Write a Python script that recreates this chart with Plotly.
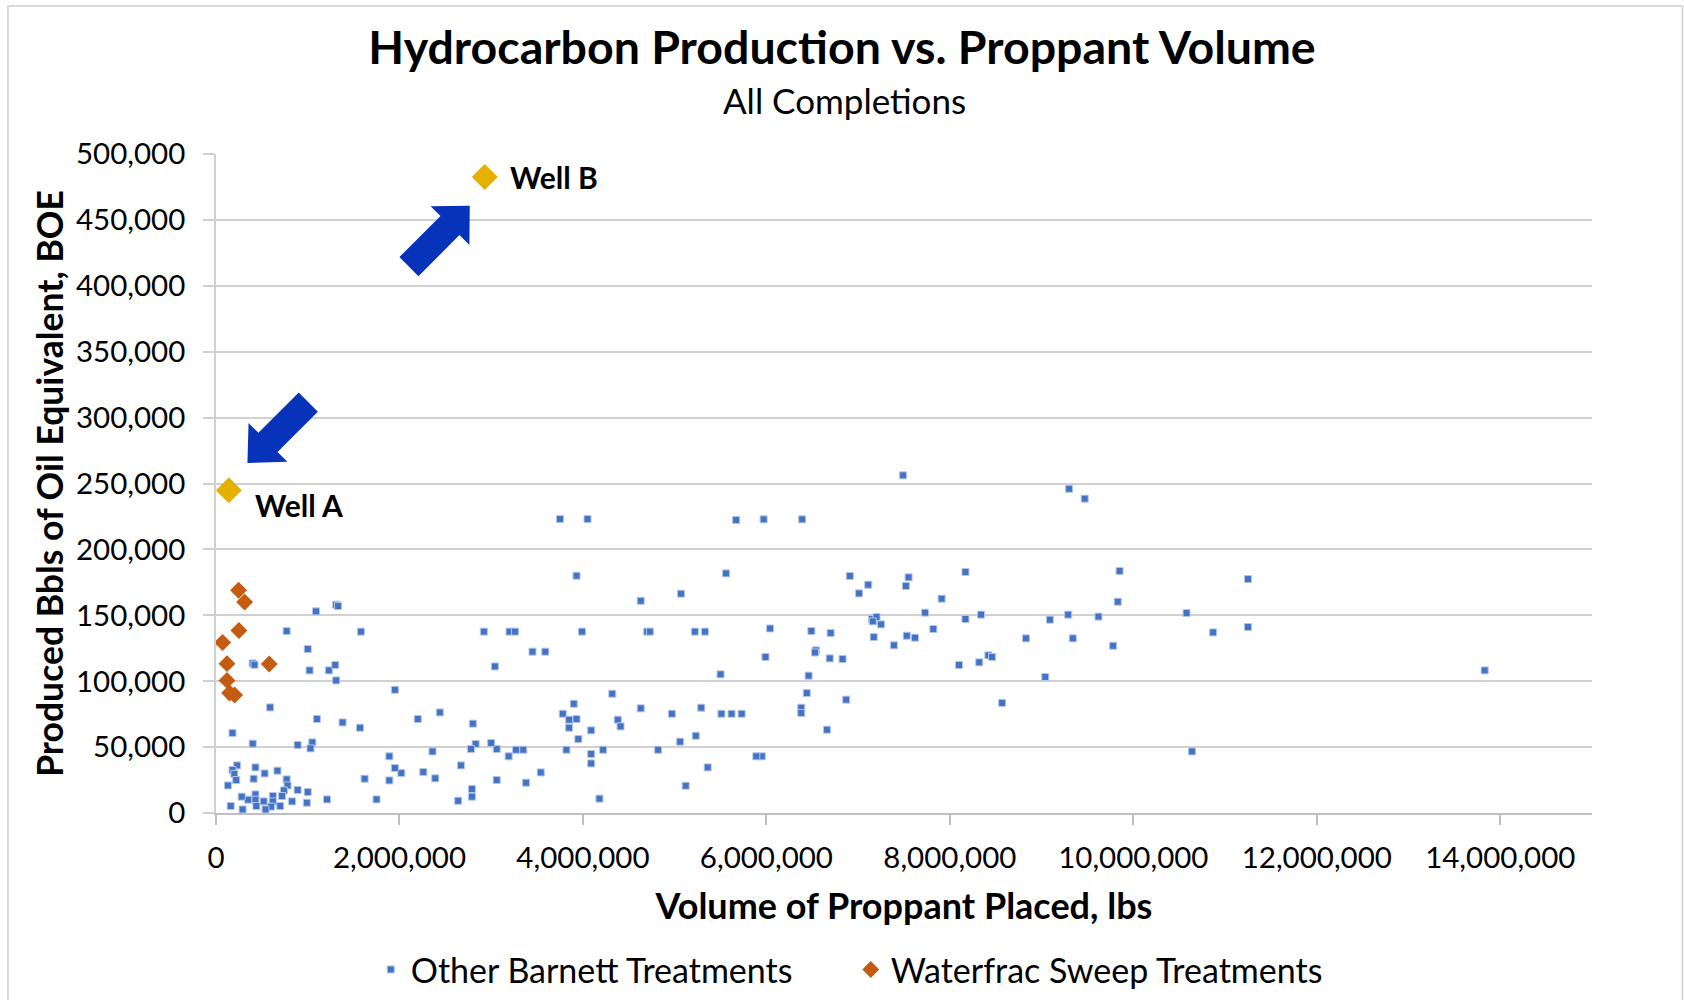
import math
import plotly.graph_objects as go

# ---------------- data ----------------
other_x = [3930000, 4630000, 1090000, 1310000, 1330000, 770000, 1580000, 2920000, 3200000, 3260000,
           3990000, 4700000, 4730000, 1000000, 3450000, 3590000, 400000, 420000, 1020000, 1230000,
           1300000, 1310000, 3040000, 1950000, 4320000, 590000, 4630000, 2440000, 3900000, 3780000,
           3850000, 3930000, 3850000, 3950000, 4090000, 4380000, 4410000, 4090000, 4220000, 4090000,
           4180000, 3820000, 3540000, 3380000, 3270000, 3350000, 3190000, 3060000, 3000000, 3060000,
           2830000, 2780000, 2800000, 2790000, 2790000, 2640000, 2670000, 2390000, 2360000, 2260000,
           2200000, 2020000, 1950000, 1890000, 1890000, 1750000, 1620000, 1570000, 1380000, 1100000,
           1050000, 1030000, 890000, 1210000, 1000000, 990000, 890000, 830000, 400000, 180000,
           230000, 180000, 200000, 220000, 130000, 430000, 530000, 670000, 410000, 770000,
           780000, 740000, 720000, 700000, 620000, 620000, 600000, 540000, 520000, 430000,
           430000, 440000, 350000, 280000, 290000, 160000,
           5670000, 5970000, 6390000, 3750000, 4050000, 7490000, 9300000, 9470000, 5560000, 5070000,
           5220000, 5330000, 6040000, 5990000, 5500000, 6490000, 6700000, 6540000, 6530000, 6690000,
           6830000, 6460000, 6440000, 6380000, 6380000, 6870000, 6660000, 6910000, 7010000, 7110000,
           7520000, 7550000, 8170000, 7910000, 7730000, 8340000, 8170000, 9290000, 9620000, 9090000,
           8830000, 9340000, 9040000, 8570000, 8100000, 8320000, 8420000, 8460000, 7820000, 7620000,
           7530000, 7390000, 7250000, 7150000, 7200000, 7160000, 7170000, 5950000, 5890000, 5360000,
           5120000, 5230000, 5060000, 4820000, 4970000, 5290000, 5510000, 5620000, 5730000,
           9850000, 11250000, 9830000, 9780000, 10580000, 10870000, 11250000, 13830000, 10640000]
other_y = [180000, 161000, 153000, 158000, 157000, 138000, 137600, 137600, 137600, 137600,
           137600, 137600, 137600, 124400, 122400, 122400, 113500, 112500, 108200, 108200,
           112300, 100600, 111200, 93500, 90500, 80100, 79400, 76300, 82900, 75300,
           70800, 71300, 64700, 56100, 62700, 70800, 65700, 44800, 48000, 37600,
           10900, 48000, 30800, 23000, 48000, 48000, 43000, 48600, 53100, 25000,
           52400, 48600, 67800, 18200, 12400, 9300, 36100, 26300, 46700, 31100,
           71300, 30300, 34100, 43000, 24700, 10300, 26000, 64700, 68700, 71300,
           53600, 49000, 51600, 10300, 15900, 7800, 17500, 8800, 52600, 60700,
           36100, 32600, 29600, 25000, 20900, 34600, 30000, 32100, 26000, 25500,
           20900, 17100, 12900, 5300, 12900, 8800, 4800, 2700, 8800, 14100,
           10100, 5300, 10100, 12400, 2700, 5300,
           222300, 222800, 222800, 223000, 223000, 256200, 246000, 238500, 181800, 166400,
           137600, 137600, 140000, 118400, 105200, 138100, 136600, 123400, 121800, 117300,
           116800, 104200, 91000, 79900, 75900, 86000, 63200, 179800, 166600, 173200,
           172200, 178800, 182900, 162600, 152000, 150500, 147200, 150500, 149000, 146700,
           132500, 132500, 103200, 83500, 112300, 114300, 119600, 118400, 139600, 133000,
           134500, 127200, 143100, 147200, 148700, 145400, 133500, 43000, 43000, 34600,
           20700, 58600, 54100, 48000, 75300, 79900, 75300, 75300, 75300,
           183600, 177500, 160300, 126900, 151700, 137000, 141100, 108200, 46700]

sweep_x = [246000, 312000, 250000, 72000, 120000, 580000, 120000, 148000, 203000]
sweep_y = [169000, 160000, 138500, 129400, 113300, 113000, 100600, 91000, 89500]

well_names = ["Well A", "Well B"]
well_x = [140000, 2930000]
well_y = [244800, 482500]

x_ticks = [0, 2000000, 4000000, 6000000, 8000000, 10000000, 12000000, 14000000]
y_ticks = [0, 50000, 100000, 150000, 200000, 250000, 300000, 350000, 400000, 450000, 500000]

FONT = "Lato"
BLUE = "#4472C4"
ORANGE = "#C55A11"
GOLD = "#E6B000"
ARROW = "#0633B9"

fig = go.Figure()
fig.add_trace(go.Scatter(
    x=other_x, y=other_y, mode="markers", name="Other Barnett Treatments",
    marker=dict(symbol="square", size=7, color=BLUE, line=dict(width=1, color="#B4C7E7")),
))
fig.add_trace(go.Scatter(
    x=sweep_x, y=sweep_y, mode="markers", name="Waterfrac Sweep Treatments",
    marker=dict(symbol="diamond", size=13, color=ORANGE, line=dict(width=0)),
))
fig.add_trace(go.Scatter(
    x=well_x, y=well_y, mode="markers", name="Wells", showlegend=False,
    marker=dict(symbol="diamond", size=20, color=GOLD, line=dict(width=0)),
))


def arrow_path(tip_dx, tip_dy, angle_deg, length, shaft_w, head_w, head_len):
    a = math.radians(angle_deg)
    ux, uy = math.cos(a), math.sin(a)
    px, py = -uy, ux
    tx, ty = tip_dx, tip_dy
    bx, by = tx - ux * head_len, ty - uy * head_len
    sx, sy = tx - ux * length, ty - uy * length
    pts = [
        (sx + px * shaft_w / 2, sy + py * shaft_w / 2),
        (bx + px * shaft_w / 2, by + py * shaft_w / 2),
        (bx + px * head_w / 2, by + py * head_w / 2),
        (tx, ty),
        (bx - px * head_w / 2, by - py * head_w / 2),
        (bx - px * shaft_w / 2, by - py * shaft_w / 2),
        (sx - px * shaft_w / 2, sy - py * shaft_w / 2),
    ]
    return "M " + " L ".join(f"{x:.1f},{y:.1f}" for x, y in pts) + " Z"


arrow_specs = [  # (tip offset x, tip offset y (up), angle, length, shaft, head width, head length)
    (18.6, 27.4, 225, 86, 27, 55, 29),
    (-15, -28.7, 45, 86, 27, 55, 28),
]
for (wx, wy), spec in zip(zip(well_x, well_y), arrow_specs):
    fig.add_shape(type="path", xref="x", yref="y", xsizemode="pixel", ysizemode="pixel",
                  xanchor=wx, yanchor=wy, path=arrow_path(*spec),
                  fillcolor=ARROW, line=dict(width=0))

label_shifts = [(24, -15), (23, 0)]
for name, wx, wy, (dx, dy) in zip(well_names, well_x, well_y, label_shifts):
    fig.add_annotation(x=wx, y=wy, text=f"<b>{name}</b>", showarrow=False,
                       xanchor="left", yanchor="middle", xshift=dx, yshift=dy,
                       font=dict(family=FONT, size=30, color="#000000"))

# subtitle
fig.add_annotation(x=0.4565, y=1.0823, xref="paper", yref="paper", text="All Completions",
                   showarrow=False, xanchor="center", yanchor="middle",
                   font=dict(family=FONT, size=35, color="#000000"))

# chart border
fig.add_shape(type="rect", xref="paper", yref="paper", x0=-0.1512, x1=1.0657, y0=-0.30, y1=1.2246,
              line=dict(color="#D0D0D0", width=1.5), fillcolor="rgba(0,0,0,0)", layer="below")

fig.update_layout(
    width=1684, height=1000,
    margin=dict(l=216, r=92, t=154, b=187, autoexpand=False),
    paper_bgcolor="white", plot_bgcolor="white",
    font=dict(family=FONT, color="#000000"),
    title=dict(text="<b>Hydrocarbon Production vs. Proppant Volume</b>",
               x=0.5, xref="container", xanchor="center",
               y=0.952, yref="container", yanchor="middle",
               font=dict(family=FONT, size=46.5, color="#000000")),
    xaxis=dict(range=[0, 15000000], tickvals=x_ticks, tickformat=",d", automargin=False,
               showgrid=False, zeroline=False, showline=True, linecolor="#BFBFBF", linewidth=1.5,
               ticks="outside", ticklen=10, tickcolor="#BFBFBF", tickwidth=1.5,
               tickfont=dict(family=FONT, size=29.5, color="#000000"), ticklabelstandoff=8,
               title=dict(text="<b>Volume of Proppant Placed, lbs</b>", standoff=21,
                          font=dict(family=FONT, size=36, color="#000000"))),
    yaxis=dict(range=[0, 500000], tickvals=y_ticks, tickformat=",d", automargin=False,
               showgrid=True, gridcolor="#D0D0D0", gridwidth=1.5, zeroline=False,
               showline=True, linecolor="#D0D0D0", linewidth=1.5,
               ticks="outside", ticklen=11, tickcolor="#D0D0D0", tickwidth=1.5,
               tickfont=dict(family=FONT, size=29.5, color="#000000"), ticklabelstandoff=12,
               title=dict(text="<b>Produced Bbls of Oil Equivalent, BOE</b>", standoff=2,
                          font=dict(family=FONT, size=35.5, color="#000000"))),
    legend=dict(orientation="h", x=0.4613, xanchor="center", y=-0.238, yanchor="middle",
                font=dict(family=FONT, size=34, color="#000000"), entrywidth=435,
                entrywidthmode="pixels", bgcolor="rgba(0,0,0,0)"),
    showlegend=True,
)

fig.write_html("out.html", config={"displayModeBar": False},
               post_script="document.body.style.margin='0';document.body.style.overflow='hidden';")
